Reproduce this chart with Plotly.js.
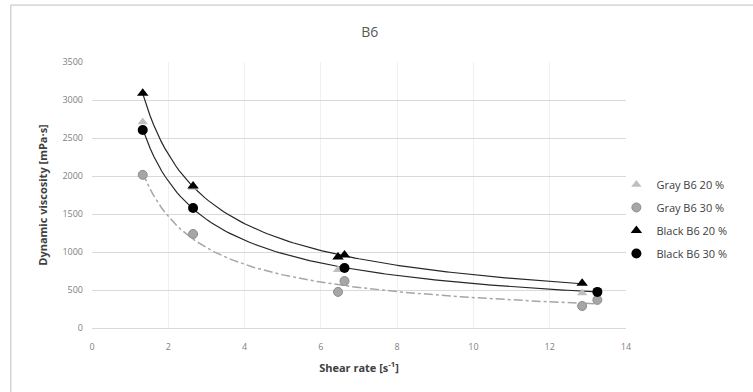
<!DOCTYPE html>
<html>
<head>
<meta charset="utf-8">
<script src="https://cdn.plot.ly/plotly-3.0.1.min.js"></script>
<style>
html,body{margin:0;padding:0;background:#fff;}
#chart{width:753px;height:392px;}
</style>
</head>
<body>
<div id="chart"></div>
<script>
// Data
var grayB6_20_x = [1.33, 2.65, 6.45, 12.85];
var grayB6_20_y = [2710, 1850, 765, 460];
var grayB6_30_x = [1.33, 2.65, 6.45, 6.62, 12.85, 13.25];
var grayB6_30_y = [2015, 1237, 475, 618, 290, 370];
var blackB6_20_x = [1.33, 2.65, 6.45, 6.62, 12.85];
var blackB6_20_y = [3090, 1870, 935, 960, 590];
var blackB6_30_x = [1.33, 2.65, 6.62, 13.25];
var blackB6_30_y = [2605, 1580, 790, 475];
var seriesNames = ['Gray B6 20 %', 'Gray B6 30 %', 'Black B6 20 %', 'Black B6 30 %'];
var xTicks = [0, 2, 4, 6, 8, 10, 12, 14];
var yTicks = [0, 500, 1000, 1500, 2000, 2500, 3000, 3500];

// Power trendline (least squares in log-log space), like Excel's power trendline
function powerFit(xs, ys) {
  var n = xs.length, sx = 0, sy = 0, sxx = 0, sxy = 0;
  for (var i = 0; i < n; i++) {
    var lx = Math.log(xs[i]), ly = Math.log(ys[i]);
    sx += lx; sy += ly; sxx += lx * lx; sxy += lx * ly;
  }
  var b = (n * sxy - sx * sy) / (n * sxx - sx * sx);
  var a = Math.exp((sy - b * sx) / n);
  var x0 = Math.min.apply(null, xs), x1 = Math.max.apply(null, xs);
  var tx = [], ty = [];
  for (var k = 0; k <= 120; k++) {
    var x = x0 + (x1 - x0) * k / 120;
    tx.push(x); ty.push(a * Math.pow(x, b));
  }
  return {x: tx, y: ty};
}

var tB20 = powerFit(blackB6_20_x, blackB6_20_y);
var tB30 = powerFit(blackB6_30_x, blackB6_30_y);
var tG30 = powerFit(grayB6_30_x, grayB6_30_y);

var traces = [
  {x: tG30.x, y: tG30.y, mode: 'lines', showlegend: false, hoverinfo: 'skip',
   line: {color: '#a6a6a6', width: 1.5, dash: 'dashdot'}},
  {x: tB30.x, y: tB30.y, mode: 'lines', showlegend: false, hoverinfo: 'skip',
   line: {color: '#262626', width: 1.2}},
  {x: tB20.x, y: tB20.y, mode: 'lines', showlegend: false, hoverinfo: 'skip',
   line: {color: '#262626', width: 1.2}},
  {x: grayB6_20_x, y: grayB6_20_y, mode: 'markers', name: seriesNames[0], legendgroup: 'g1',
   marker: {symbol: 'triangle-up', size: 9, color: '#bfbfbf', line: {width: 0}}},
  {x: grayB6_30_x, y: grayB6_30_y, mode: 'markers', name: seriesNames[1], legendgroup: 'g2',
   marker: {symbol: 'circle', size: 9, color: '#a6a6a6', line: {width: 1, color: '#8c8c8c'}}},
  {x: blackB6_20_x, y: blackB6_20_y, mode: 'markers', name: seriesNames[2], legendgroup: 'g3',
   marker: {symbol: 'triangle-up', size: 10, color: '#000000', line: {width: 0}}},
  {x: blackB6_30_x, y: blackB6_30_y, mode: 'markers', name: seriesNames[3], legendgroup: 'g4',
   marker: {symbol: 'circle', size: 10, color: '#000000', line: {width: 0}}}
];

var font = '"Open Sans", "Noto Sans", sans-serif';
var layout = {
  width: 753, height: 392,
  margin: {l: 92, r: 127, t: 62, b: 64},
  paper_bgcolor: '#ffffff', plot_bgcolor: '#ffffff',
  font: {family: font, color: '#595959', size: 9},
  title: {text: 'B6', x: 0.491, xanchor: 'center', y: 0.918, yanchor: 'middle',
          font: {family: font, size: 14, color: '#595959'}},
  xaxis: {range: [0, 14], tickvals: xTicks, ticktext: xTicks.map(String),
          showgrid: true, gridcolor: '#f0f0f0', gridwidth: 1,
          zeroline: false, showline: true, linecolor: '#d9d9d9', linewidth: 1,
          ticks: '', ticklabelstandoff: 10, tickfont: {size: 9, color: '#7f7f7f'},
          title: {text: '<b>Shear rate [s<sup>-1</sup>]</b>', standoff: 12,
                  font: {size: 11, color: '#404040'}}},
  yaxis: {range: [0, 3500], tickvals: yTicks, ticktext: yTicks.map(String),
          showgrid: true, gridcolor: '#d9d9d9', gridwidth: 1,
          zeroline: false, showline: false, ticks: '', ticklabelstandoff: 8,
          tickfont: {size: 9, color: '#7f7f7f'},
          title: {text: '<b>Dynamic viscosity [mPa·s]</b>', standoff: 12,
                  font: {size: 11, color: '#404040'}}},
  legend: {x: 0.982, xanchor: 'left', y: 0.41, yanchor: 'middle',
           font: {size: 11, color: '#404040'}, bgcolor: 'rgba(0,0,0,0)',
           itemwidth: 30, tracegroupgap: 4},
  shapes: [
    {type: 'line', xref: 'paper', yref: 'paper', x0: -0.152, x1: 1.3, y0: 1.214, y1: 1.214,
     line: {color: '#bfbfbf', width: 1}},
    {type: 'line', xref: 'paper', yref: 'paper', x0: -0.152, x1: -0.152, y0: 1.214, y1: -0.3,
     line: {color: '#bfbfbf', width: 1}}
  ]
};

Plotly.newPlot('chart', traces, layout, {displayModeBar: false, staticPlot: true});
</script>
</body>
</html>
